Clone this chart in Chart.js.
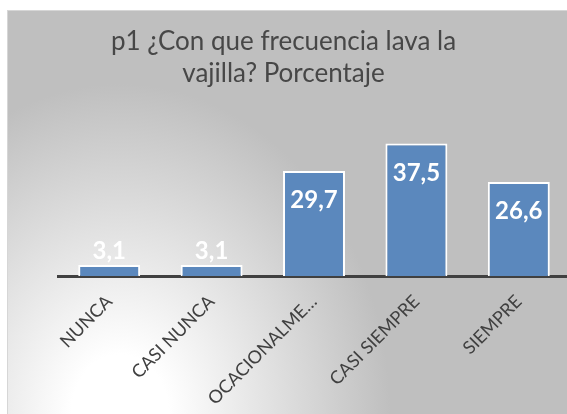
<!DOCTYPE html>
<html>
<head>
<meta charset="utf-8">
<script src="https://cdn.jsdelivr.net/npm/chart.js@4"></script>
<style>
  html, body { margin: 0; padding: 0; background: #ffffff; overflow: hidden; width: 567px; height: 414px; }
  #frame {
    position: absolute; left: 7px; top: 10px; width: 580px; height: 404px;
    border-left: 1px solid #d6d6d6; border-top: 1px solid #d6d6d6;
    background: radial-gradient(ellipse 270px 330px at 112px 403px, #ffffff 0%, #ffffff 18%, #bfbfbf 100%);
  }
  #title {
    position: absolute; left: -8px; top: 0; width: 567px; text-align: center;
    font-family: Lato, "Open Sans", sans-serif; font-size: 26px; line-height: 32px;
    color: #474747; padding-top: 13px;
  }
  #wrap { position: absolute; left: 0; top: 0; width: 580px; height: 404px; }
</style>
</head>
<body>
<div id="frame">
  <div id="wrap"><canvas id="c"></canvas></div>
  <div id="title">p1 ¿Con que frecuencia lava la<br>vajilla? Porcentaje</div>
</div>
<script>
const categories = ["NUNCA", "CASI NUNCA", "OCACIONALME…", "CASI SIEMPRE", "SIEMPRE"];
const percentages = [3.1, 3.1, 29.7, 37.5, 26.6];
const valueLabels = ["3,1", "3,1", "29,7", "37,5", "26,6"];

const barLabels = {
  id: 'barLabels',
  afterDatasetsDraw(chart) {
    const ctx = chart.ctx;
    const meta = chart.getDatasetMeta(0);
    ctx.save();
    ctx.font = 'bold 24px Lato, "Open Sans", sans-serif';
    ctx.fillStyle = '#ffffff';
    ctx.textAlign = 'center';
    ctx.textBaseline = 'alphabetic';
    meta.data.forEach((bar, i) => {
      const h = bar.base - bar.y;
      const y = h < 40 ? bar.y - 6 : bar.y + 37;
      ctx.fillText(valueLabels[i], bar.x, y);
    });
    ctx.restore();
  }
};

new Chart(document.getElementById('c'), {
  type: 'bar',
  data: {
    labels: categories,
    datasets: [{
      data: percentages,
      backgroundColor: '#5b88bd',
      borderColor: '#ffffff',
      borderWidth: 2,
      categoryPercentage: 1,
      barPercentage: 0.605
    }]
  },
  options: {
    responsive: true,
    maintainAspectRatio: false,
    animation: false,
    layout: { padding: { left: 50, right: 18, top: 106, bottom: 0 } },
    plugins: { legend: { display: false }, title: { display: false }, tooltip: { enabled: false } },
    scales: {
      y: { display: false, min: 0, max: 45 },
      x: {
        z: 1,
        grid: { display: false, drawTicks: false },
        border: { display: true, color: '#404040', width: 3 },
        ticks: {
          color: '#404040',
          font: { family: 'Lato, "Open Sans", sans-serif', size: 18 },
          minRotation: 45, maxRotation: 45, padding: 15, autoSkip: false
        },
        afterFit: (s) => { s.height = 139; }
      }
    }
  },
  plugins: [barLabels]
});
</script>
</body>
</html>
